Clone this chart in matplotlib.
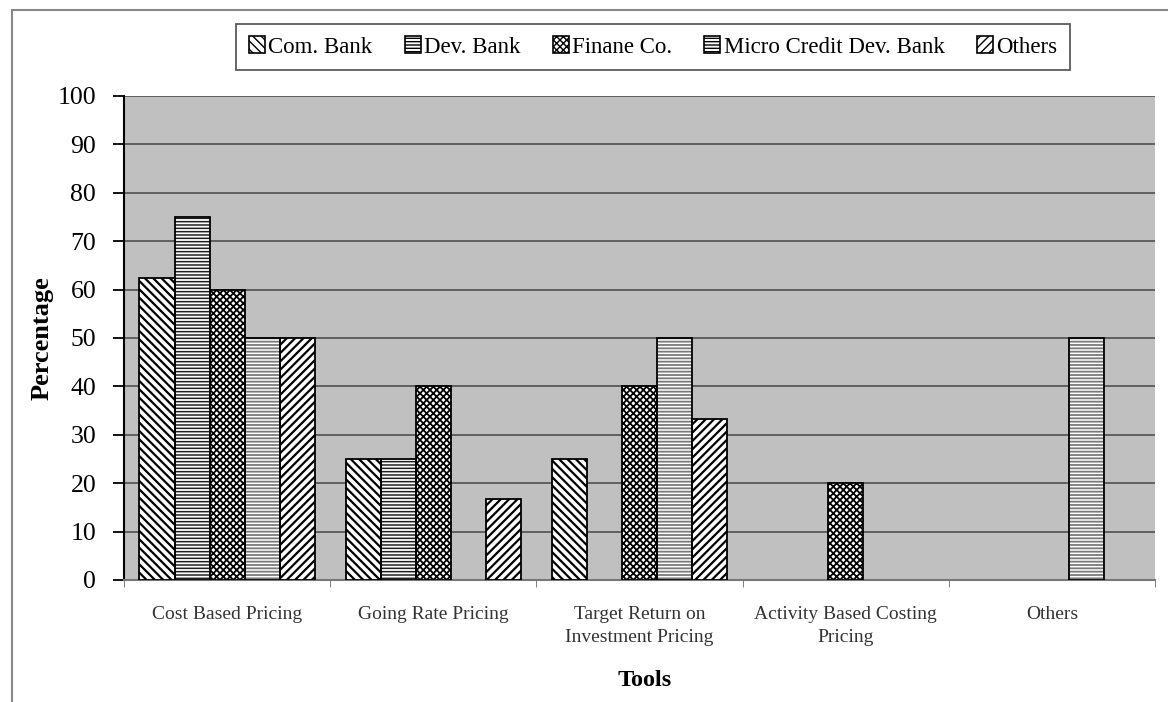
import numpy as np
import matplotlib
matplotlib.use("Agg")
import matplotlib.pyplot as plt
from matplotlib.patches import Rectangle, Patch

categories = ["Cost Based Pricing", "Going Rate Pricing",
              "Target Return on\nInvestment Pricing",
              "Activity Based Costing\nPricing", "Others"]
series_names = ["Com. Bank", "Dev. Bank", "Finane Co.",
                "Micro Credit Dev. Bank", "Others"]
com_bank = [62.5, 25, 25, 0, 0]
dev_bank = [75, 25, 0, 0, 0]
finane_co = [60, 40, 40, 20, 0]
micro_credit = [50, 0, 50, 0, 50]
others = [50, 16.67, 33.33, 0, 0]
y_ticks = [0, 10, 20, 30, 40, 50, 60, 70, 80, 90, 100]

series = [com_bank, dev_bank, finane_co, micro_credit, others]
# hatch pattern, hatch colour, hatch line width for each series
styles = [
    ("\\\\\\\\", "black", 1.6),
    ("-----", "#202020", 1.1),
    ("xxxxx", "black", 1.3),
    ("-----", "#7a7a7a", 1.3),
    ("////", "black", 1.6),
]

plt.rcParams["font.family"] = ["Liberation Serif", "DejaVu Serif"]

fig = plt.figure(figsize=(11.68, 7.02), dpi=100)
fig.patch.set_facecolor("white")
ax = fig.add_axes([124 / 1168, 1 - 580 / 702, (1155 - 124) / 1168, (580 - 96) / 702])
ax.set_facecolor("#c0c0c0")

x = np.arange(len(categories))
width = 0.17
offsets = (np.arange(len(series)) - 2) * width

handles = []
for vals, off, (hatch, hcol, hlw), name in zip(series, offsets, styles, series_names):
    vals = np.asarray(vals, dtype=float)
    keep = vals > 0
    with plt.rc_context({"hatch.linewidth": hlw}):
        bars = ax.bar(x[keep] + off, vals[keep], width, color="white",
                      edgecolor=hcol, hatch=hatch, linewidth=0, zorder=3)
        for b in bars:
            if hasattr(b, "set_hatch_linewidth"):
                b.set_hatch_linewidth(hlw)
        ax.bar(x[keep] + off, vals[keep], width, fill=False, edgecolor="black",
               linewidth=1.3, zorder=4)
        h = Patch(facecolor="white", edgecolor="black", hatch=hatch, linewidth=1.2)
        if hasattr(h, "set_hatch_linewidth"):
            h.set_hatch_linewidth(hlw)
    handles.append(h)

ax.set_xlim(-0.5, len(categories) - 0.5)
ax.set_ylim(0, 100)
ax.set_yticks(y_ticks)
ax.set_yticklabels([str(t) for t in y_ticks], fontsize=18.5)
ax.yaxis.grid(True, color="#505050", linewidth=1.2, zorder=1)
ax.set_axisbelow(True)

ax.set_xticks(x)
ax.set_xticklabels(categories, fontsize=14, color="#333333", linespacing=1.45)
ax.tick_params(axis="x", length=0, pad=19)
ax.set_xticks(np.arange(len(categories) + 1) - 0.5, minor=True)
ax.tick_params(axis="x", which="minor", length=5, color="#666666")
ax.tick_params(axis="y", length=8, width=1.3, color="black", pad=12)

for s in ["top", "right"]:
    ax.spines[s].set_visible(False)
ax.spines["left"].set_color("black")
ax.spines["left"].set_linewidth(1.5)
ax.spines["bottom"].set_color("#777777")
ax.spines["bottom"].set_linewidth(1.5)

ax.set_ylabel("Percentage", fontsize=19, fontweight="bold")
ax.yaxis.set_label_coords(-0.068, 0.5)
ax.set_xlabel("Tools", fontsize=17.5, fontweight="bold")
ax.xaxis.set_label_coords(0.505, -0.186)

leg = fig.legend(handles, series_names, loc="center", ncol=5,
                 bbox_to_anchor=(653 / 1168, 1 - 47 / 702), fontsize=16.5,
                 frameon=True, fancybox=False, edgecolor="#333333",
                 handlelength=0.7, handleheight=0.7, handletextpad=0.15,
                 columnspacing=1.4, borderpad=0.55)
leg.get_frame().set_linewidth(1.3)

# outer chart frame
fig.add_artist(Rectangle((12 / 1168, -0.05), 1.1, 1 - 10 / 702 + 0.05,
                         transform=fig.transFigure, fill=False,
                         edgecolor="#888888", linewidth=1.5))

fig.savefig("out.png", dpi=100)
